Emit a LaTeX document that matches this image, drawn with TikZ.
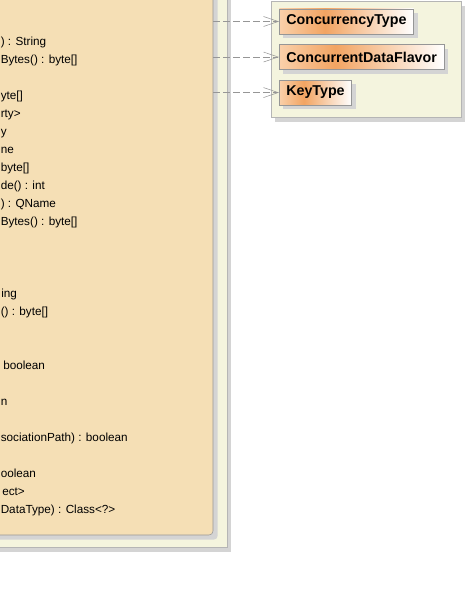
\documentclass[tikz,border=0pt]{standalone}
\usepackage{fontspec}
\setmainfont{Liberation Sans}
\usetikzlibrary{arrows.meta,positioning,fit,shadows}
\definecolor{pkgcream}{RGB}{244,244,222}
\definecolor{clswheat}{RGB}{245,223,181}
\definecolor{umlgris}{RGB}{150,150,150}
\definecolor{umlshadow}{RGB}{212,212,212}
\definecolor{clsleft}{RGB}{250,208,170}
\definecolor{clsmid}{RGB}{242,164,98}
\pgfdeclarehorizontalshading{clsshade}{100bp}{color(0bp)=(clsleft); color(25bp)=(clsleft);
  color(42bp)=(clsmid); color(75bp)=(white); color(100bp)=(white)}

\begin{document}
\begin{tikzpicture}[x=0.75pt, y=-0.75pt,
  pkgbox/.style={rectangle, draw=umlgris!70, fill=pkgcream, inner sep=0pt,
    drop shadow={shadow xshift=3pt, shadow yshift=-3.5pt, fill=umlshadow, opacity=1}},
  classbox/.style={rectangle, rounded corners=3pt, draw=umlgris, fill=clswheat, inner sep=0pt,
    drop shadow={shadow xshift=3.5pt, shadow yshift=-3.5pt, fill=umlshadow, opacity=1}},
  typebox/.style={rectangle, draw=umlgris, shading=clsshade, minimum height=18.75pt,
    inner xsep=5.25pt, font=\fontsize{10.7}{12}\selectfont\bfseries,
    drop shadow={shadow xshift=3pt, shadow yshift=-3pt, fill=umlshadow, opacity=1}},
  member/.style={anchor=base west, inner sep=0pt, font=\fontsize{8.8}{10.5}\selectfont},
  dep/.style={draw=umlgris, dash pattern=on 5pt off 2.5pt,
    -{Straight Barb[length=11pt, width=7.5pt]}}]

  \clip (0,0) rectangle (469,591);

  % Packages
  \node[pkgbox, fit={(-20,-20) (227,547)}] (pkgleft)  {};
  \node[pkgbox, fit={(271,1) (461,117)}]   (pkgright) {};

  % Big class, cut by the frame
  \node[classbox, fit={(-20,-20) (213,535)}] (mapping) {};

  % Members (visible tails only)
  \node[member] (m01) at (0.5,45.5) {) : String};
  \node[member] (m02) at (0.5,63.5) {Bytes() : byte[]};
  \node[member] (m03) at (0.5,99.5) {yte[]};
  \node[member] (m04) at (0.5,117.5) {rty>};
  \node[member] (m05) at (0.5,135.5) {y};
  \node[member] (m06) at (0.5,153.5) {ne};
  \node[member] (m07) at (0.5,171.5) {byte[]};
  \node[member] (m08) at (0.5,189.5) {de() : int};
  \node[member] (m09) at (0.5,207.5) {) : QName};
  \node[member] (m10) at (0.5,225.5) {Bytes() : byte[]};
  \node[member] (m11) at (1,297.5)   {ing};
  \node[member] (m12) at (0.5,315.5) {() : byte[]};
  \node[member] (m13) at (3,369.5)   {boolean};
  \node[member] (m14) at (0.5,405.5) {n};
  \node[member] (m15) at (0.5,441.5) {sociationPath) : boolean};
  \node[member] (m16) at (0.5,477.5) {oolean};
  \node[member] (m17) at (2,495.5)   {ect>};
  \node[member] (m18) at (0.5,513.5) {DataType) : Class<?>};

  % Types in the right package
  \node[typebox, anchor=west] (ctype) at (279,21.5) {ConcurrencyType};
  \node[typebox, below=7.5pt of ctype.south west, anchor=north west] (cflavor) {ConcurrentDataFlavor};
  \node[typebox, below=7.5pt of cflavor.south west, anchor=north west] (ktype) {KeyType};

  % Dependencies
  \draw[dep] (mapping.east |- ctype.west)   -- (ctype.west);
  \draw[dep] (mapping.east |- cflavor.west) -- (cflavor.west);
  \draw[dep] (mapping.east |- ktype.west)   -- (ktype.west);
\end{tikzpicture}
\end{document}
